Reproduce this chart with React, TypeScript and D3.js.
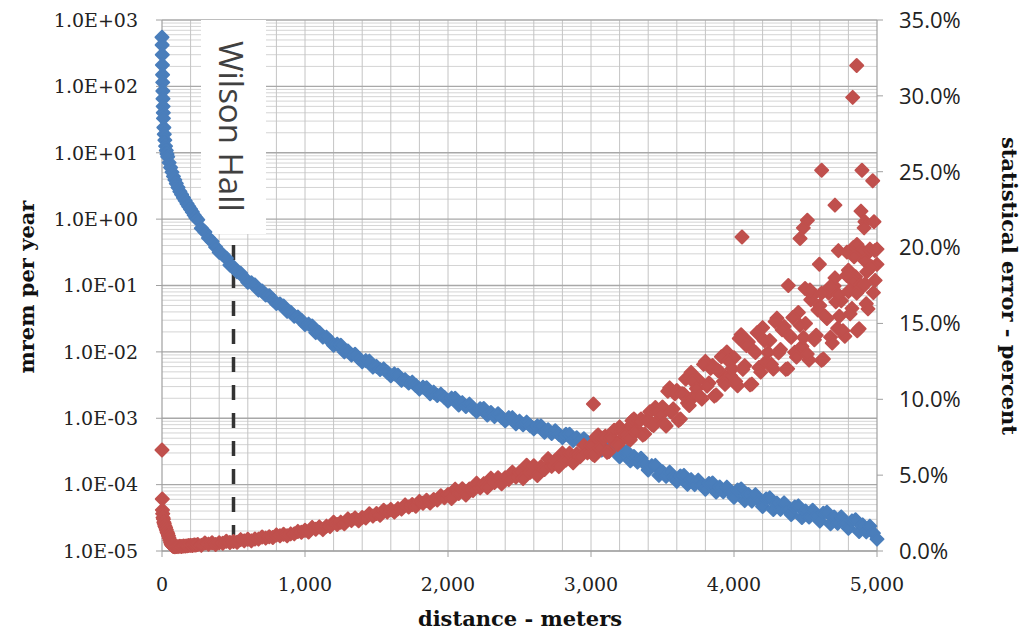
import React from "react";
import * as d3 from "d3";

const W = 1023;
const H = 633;
const PL = 162, PR = 877, PT = 20, PB = 551;

const xTickValues = [0, 1000, 2000, 3000, 4000, 5000];
const xTickLabels = ["0", "1,000", "2,000", "3,000", "4,000", "5,000"];
const leftTickValues = [1e3, 1e2, 1e1, 1e0, 1e-1, 1e-2, 1e-3, 1e-4, 1e-5];
const leftTickLabels = ["1.0E+03", "1.0E+02", "1.0E+01", "1.0E+00", "1.0E-01", "1.0E-02", "1.0E-03", "1.0E-04", "1.0E-05"];
const rightTickValues = [0, 5, 10, 15, 20, 25, 30, 35];
const rightTickLabels = ["0.0%", "5.0%", "10.0%", "15.0%", "20.0%", "25.0%", "30.0%", "35.0%"];

const wilsonHallDistance = 500;

// dose (mrem per year) vs distance (m)
const doseSeries: [number, number][] = [
  [0, 550], [1, 420], [2, 300], [3, 210], [4, 150], [5, 115], [6, 85], [7, 65], [8, 50], [9, 40], [10, 33], [13, 24], [16, 19], [20, 15.5], [25, 12.6], [30, 10.8], [35, 9.6], [40, 8.7], [50, 7.1], [60, 6.0], [70, 5.1], [80, 4.4], [90, 3.9], [100, 3.45], [112, 3.0], [125, 2.6], [137, 2.35], [150, 2.1], [162, 1.9], [175, 1.7], [187, 1.55], [200, 1.41], [212, 1.28], [225, 1.15], [237, 1.05],
  [250, 0.98], [275, 0.73], [300, 0.64], [325, 0.52], [350, 0.46], [375, 0.38], [400, 0.316], [425, 0.29], [450, 0.257], [475, 0.204], [500, 0.19], [525, 0.161], [550, 0.153], [575, 0.131], [600, 0.112], [625, 0.110], [650, 0.102], [675, 0.0851], [700, 0.0828], [725, 0.0721], [750, 0.0702], [775, 0.0611], [800, 0.0537], [825, 0.0527], [850, 0.049], [875, 0.0407], [900, 0.0396], [925, 0.0345], [950, 0.0336], [975, 0.0299],
  [1000, 0.0257], [1025, 0.0262], [1050, 0.0245], [1075, 0.0195], [1100, 0.0196], [1125, 0.0167], [1150, 0.0167], [1175, 0.0146], [1200, 0.0126], [1225, 0.0131], [1250, 0.0126], [1275, 0.0100], [1300, 0.0103], [1325, 8.95e-3], [1350, 9.2e-3], [1375, 8.02e-3], [1400, 7.08e-3], [1425, 7.38e-3], [1450, 7.24e-3], [1475, 5.89e-3], [1500, 6.05e-3], [1525, 5.4e-3], [1550, 5.55e-3], [1575, 4.94e-3], [1600, 4.37e-3], [1625, 4.66e-3], [1650, 4.47e-3], [1675, 3.72e-3], [1700, 3.82e-3], [1725, 3.4e-3], [1750, 3.5e-3], [1775, 3.12e-3], [1800, 2.75e-3], [1825, 2.94e-3], [1850, 2.88e-3], [1875, 2.34e-3], [1900, 2.47e-3], [1925, 2.2e-3], [1950, 2.31e-3], [1975, 2.06e-3],
  [2000, 1.82e-3], [2025, 2.01e-3], [2050, 2.0e-3], [2075, 1.58e-3], [2100, 1.72e-3], [2125, 1.5e-3], [2150, 1.63e-3], [2175, 1.42e-3], [2200, 1.26e-3], [2225, 1.39e-3], [2250, 1.4e-3], [2275, 1.12e-3], [2300, 1.22e-3], [2325, 1.06e-3], [2350, 1.17e-3], [2375, 1.03e-3], [2400, 9.12e-4], [2425, 1.02e-3], [2450, 1.02e-3], [2475, 8.22e-4], [2500, 9.04e-4], [2525, 7.96e-4], [2550, 8.75e-4], [2575, 7.71e-4], [2600, 6.92e-4], [2625, 7.66e-4], [2650, 7.67e-4], [2675, 6.17e-4], [2700, 6.7e-4], [2725, 5.9e-4], [2750, 6.49e-4], [2775, 5.71e-4], [2800, 5.13e-4], [2825, 5.74e-4], [2850, 5.75e-4], [2875, 4.62e-4], [2900, 5.08e-4], [2925, 4.48e-4], [2950, 4.92e-4], [2975, 4.34e-4],
  [3000, 3.72e-4], [3025, 4.43e-4], [3050, 4.52e-4], [3075, 3.31e-4], [3100, 3.84e-4], [3125, 3.19e-4], [3150, 3.7e-4], [3175, 3.08e-4], [3200, 2.63e-4], [3225, 3.13e-4], [3250, 3.16e-4], [3275, 2.29e-4], [3300, 2.65e-4], [3325, 2.18e-4], [3350, 2.5e-4], [3375, 2.06e-4], [3400, 1.66e-4], [3425, 1.93e-4], [3450, 1.95e-4], [3475, 1.38e-4], [3500, 1.56e-4], [3525, 1.33e-4], [3550, 1.54e-4], [3575, 1.3e-4], [3600, 1.12e-4], [3625, 1.35e-4], [3650, 1.38e-4], [3675, 1.01e-4], [3700, 1.19e-4], [3725, 1.0e-4], [3750, 1.17e-4], [3775, 9.84e-5], [3800, 8.51e-5], [3825, 1.04e-4], [3850, 1.06e-4], [3875, 7.76e-5], [3900, 9.2e-5], [3925, 7.83e-5], [3950, 9.18e-5], [3975, 7.73e-5],
  [4000, 6.46e-5], [4025, 8.28e-5], [4050, 8.61e-5], [4075, 5.75e-5], [4100, 7.11e-5], [4125, 5.65e-5], [4150, 7.06e-5], [4175, 5.68e-5], [4200, 4.68e-5], [4225, 6.07e-5], [4250, 6.31e-5], [4275, 4.22e-5], [4300, 5.27e-5], [4325, 4.24e-5], [4350, 5.3e-5], [4375, 4.26e-5], [4400, 3.55e-5], [4425, 4.6e-5], [4450, 4.79e-5], [4475, 3.2e-5], [4500, 4.0e-5], [4525, 3.25e-5], [4550, 4.11e-5], [4575, 3.34e-5], [4600, 2.82e-5], [4625, 3.7e-5], [4650, 3.85e-5], [4675, 2.57e-5], [4700, 3.25e-5], [4725, 2.61e-5], [4750, 3.27e-5], [4775, 2.62e-5], [4800, 2.19e-5], [4825, 2.84e-5], [4850, 2.95e-5], [4875, 1.97e-5], [4900, 2.47e-5], [4925, 1.94e-5], [4950, 2.37e-5], [4975, 1.86e-5], [5000, 1.51e-5],
];

// statistical error (percent) vs distance (m)
const errorSeries: [number, number][] = [
  [0, 6.66], [2, 3.43], [3, 2.7], [5, 2.45], [7, 2.2], [10, 2.1], [13, 1.9], [16, 1.8], [20, 1.65], [25, 1.55], [30, 1.4], [35, 1.25], [40, 1.15], [45, 1.0], [50, 0.85], [55, 0.7], [60, 0.55], [65, 0.45], [70, 0.38], [75, 0.33], [80, 0.3], [90, 0.28], [100, 0.3], [112, 0.29], [125, 0.31], [137, 0.3], [150, 0.33], [162, 0.32], [175, 0.34], [187, 0.36], [200, 0.37], [212, 0.36], [225, 0.4], [237, 0.39],
  [250, 0.43], [275, 0.37], [300, 0.53], [325, 0.45], [350, 0.54], [375, 0.43], [400, 0.54], [425, 0.51], [450, 0.64], [475, 0.56], [500, 0.63], [525, 0.58], [550, 0.75], [575, 0.67], [600, 0.77], [625, 0.67], [650, 0.79], [675, 0.78], [700, 0.92], [725, 0.85], [750, 0.94], [775, 0.89], [800, 1.06], [825, 1.0], [850, 1.10], [875, 1.0], [900, 1.13], [925, 1.13], [950, 1.29], [975, 1.24],
  [1000, 1.37], [1025, 1.25], [1050, 1.56], [1075, 1.43], [1100, 1.59], [1125, 1.41], [1150, 1.64], [1175, 1.61], [1200, 1.89], [1225, 1.75], [1250, 1.9], [1275, 1.8], [1300, 2.12], [1325, 2.0], [1350, 2.18], [1375, 1.99], [1400, 2.21], [1425, 2.18], [1450, 2.45], [1475, 2.3], [1500, 2.47], [1525, 2.36], [1550, 2.69], [1575, 2.56], [1600, 2.74], [1625, 2.56], [1650, 2.79], [1675, 2.76], [1700, 3.04], [1725, 2.9], [1750, 3.06], [1775, 2.95], [1800, 3.27], [1825, 3.15], [1850, 3.34], [1875, 3.16], [1900, 3.39], [1925, 3.36], [1950, 3.64], [1975, 3.51],
  [2000, 3.72], [2025, 3.46], [2050, 4.08], [2075, 3.79], [2100, 4.1], [2125, 3.69], [2150, 4.09], [2175, 3.98], [2200, 4.47], [2225, 4.16], [2250, 4.44], [2275, 4.19], [2300, 4.8], [2325, 4.52], [2350, 4.83], [2375, 4.43], [2400, 4.83], [2425, 4.71], [2450, 5.2], [2475, 4.87], [2500, 5.19], [2525, 4.77], [2550, 5.65], [2575, 5.19], [2600, 5.62], [2625, 4.98], [2650, 5.56], [2675, 5.37], [2700, 6.09], [2725, 5.58], [2750, 5.98], [2775, 5.56], [2800, 6.45], [2825, 6.0], [2850, 6.45], [2875, 5.81], [2900, 6.4], [2925, 6.23], [2950, 6.96], [2975, 6.47],
  [3000, 6.96], [3025, 6.29], [3050, 7.65], [3075, 6.91], [3100, 7.57], [3125, 6.55], [3150, 7.42], [3175, 7.1], [3200, 8.18], [3225, 7.38], [3250, 7.99], [3275, 7.33], [3300, 8.7], [3325, 8.0], [3350, 8.7], [3375, 7.71], [3400, 8.62], [3425, 8.34], [3450, 9.46], [3475, 8.68], [3500, 9.49], [3525, 8.24], [3550, 10.75], [3575, 9.37], [3600, 10.58], [3625, 8.7], [3650, 10.33], [3675, 9.75], [3700, 11.77], [3725, 10.23], [3750, 11.29], [3775, 10.01], [3800, 12.5], [3825, 11.07], [3850, 12.23], [3875, 10.28], [3900, 11.83], [3925, 11.18], [3950, 13.12], [3975, 11.56],
  [4000, 12.74], [4025, 10.89], [4050, 14.25], [4075, 12.22], [4100, 13.78], [4125, 11.0], [4150, 13.08], [4175, 12.1], [4200, 14.72], [4225, 12.49], [4250, 13.87], [4275, 12.0], [4300, 15.35], [4325, 13.28], [4350, 14.8], [4375, 12.01], [4400, 14.08], [4425, 13.1], [4450, 15.72], [4475, 13.48], [4500, 14.99], [4525, 12.59], [4550, 16.85], [4575, 14.22], [4600, 16.18], [4625, 12.65], [4650, 15.33], [4675, 14.1], [4700, 17.47], [4725, 14.68], [4750, 16.49], [4775, 14.16], [4800, 18.5], [4825, 15.99], [4850, 18.08], [4875, 14.65], [4900, 17.43], [4925, 16.3], [4950, 19.77], [4975, 17.03], [5000, 18.89],
];

const errorSeriesFar: [number, number][] = [
  [3012, 6.38], [3037, 7.53], [3062, 6.79], [3087, 7.45], [3112, 6.5], [3137, 7.44], [3162, 7.96], [3187, 7.01], [3212, 7.88], [3237, 7.65], [3262, 7.41], [3287, 8.58], [3312, 7.86], [3337, 8.56], [3362, 7.64], [3387, 8.62], [3412, 9.18], [3437, 8.27], [3462, 9.17], [3487, 8.96],
  [3512, 8.41], [3537, 10.53], [3562, 9.15], [3587, 10.36], [3612, 8.6], [3637, 10.36], [3662, 11.34], [3687, 9.59], [3712, 11.2], [3737, 10.7], [3762, 10.2], [3787, 12.3], [3812, 10.87], [3837, 12.04], [3862, 10.21], [3887, 11.9], [3912, 12.8], [3937, 10.98], [3962, 12.53], [3987, 12.01],
  [4012, 11.18], [4037, 14.01], [4062, 11.97], [4087, 13.54], [4112, 10.95], [4137, 13.21], [4162, 14.39], [4187, 11.79], [4212, 13.87], [4237, 13.09], [4262, 12.3], [4287, 15.12], [4312, 13.06], [4337, 14.58], [4362, 11.97], [4387, 14.22], [4412, 15.39], [4437, 12.79], [4462, 14.87], [4487, 14.07],
  [4512, 12.98], [4537, 16.56], [4562, 13.92], [4587, 15.89], [4612, 12.57], [4637, 15.48], [4662, 17.01], [4687, 13.71], [4712, 16.42], [4737, 15.47], [4762, 14.52], [4787, 18.17], [4812, 15.63], [4837, 17.72], [4862, 14.52], [4887, 17.53], [4912, 19.16], [4937, 15.96], [4962, 18.74], [4987, 17.84],
];

const errorOutliers: [number, number][] = [
  [3017, 9.69], [4056, 20.7], [4858, 32.0], [4830, 29.9], [4613, 25.1], [4895, 25.1], [4970, 24.4], [4706, 22.8], [4888, 22.4], [4513, 21.8], [4485, 21.3], [4462, 20.6], [4916, 21.7], [4979, 21.7], [4910, 21.3], [4730, 19.8], [4790, 19.7], [4835, 20.0], [4860, 20.2], [4895, 19.8], [4950, 19.9], [4985, 19.8], [5000, 19.9], [4840, 19.4], [4928, 18.4], [4597, 18.9], [4916, 17.6], [4706, 18.0], [4380, 17.5], [4497, 17.3], [4531, 17.2], [4613, 17.0], [4671, 17.4], [4730, 16.9], [4800, 17.1], [4858, 17.0],
];

const BLUE = "#4a7ebb";
const RED = "#c0504d";
const R = 6.5;
const diamond = `M0,${-R}L${R},0L0,${R}L${-R},0Z`;

export default function App() {
  const x = d3.scaleLinear().domain([0, 5000]).range([PL, PR]);
  const yL = d3.scaleLog().domain([1e-5, 1e3]).range([PB, PT]);
  const yR = d3.scaleLinear().domain([0, 35]).range([PB, PT]);

  const vGrid = d3.range(200, 5000, 200);
  const minorH = yL.ticks().filter((v) => {
    const l = Math.log10(v);
    return Math.abs(l - Math.round(l)) > 1e-6;
  });

  const serif = "'DejaVu Serif', serif";
  const sans = "'Open Sans', sans-serif";

  return (
    <svg width={W} height={H} style={{ position: "absolute", left: 0, top: 0, background: "#fff" }}>
      <rect x={0} y={0} width={W} height={H} fill="#fff" />
      {minorH.map((v, i) => (
        <line key={"mh" + i} x1={PL} x2={PR} y1={yL(v)} y2={yL(v)} stroke="#d4d4d4" strokeWidth={1} />
      ))}
      {vGrid.map((d) => (
        <line key={"vg" + d} x1={x(d)} x2={x(d)} y1={PT} y2={PB} stroke="#c4c4c4" strokeWidth={1} />
      ))}
      {leftTickValues.map((v) => (
        <line key={"MH" + v} x1={PL} x2={PR} y1={yL(v)} y2={yL(v)} stroke="#a8a8a8" strokeWidth={1.3} />
      ))}
      <line x1={PL} x2={PL} y1={PT} y2={PB} stroke="#a0a0a0" strokeWidth={1.2} />
      <line x1={PR} x2={PR} y1={PT} y2={PB} stroke="#a0a0a0" strokeWidth={1.2} />
      <line x1={PL} x2={PR} y1={PB} y2={PB} stroke="#a0a0a0" strokeWidth={1.2} />
      {leftTickValues.map((v) => (
        <line key={"lt" + v} x1={PL - 6} x2={PL} y1={yL(v)} y2={yL(v)} stroke="#a0a0a0" />
      ))}
      {rightTickValues.map((v) => (
        <line key={"rt" + v} x1={PR} x2={PR + 6} y1={yR(v)} y2={yR(v)} stroke="#a0a0a0" />
      ))}
      {xTickValues.map((v) => (
        <line key={"xt" + v} x1={x(v)} x2={x(v)} y1={PB} y2={PB + 6} stroke="#a0a0a0" />
      ))}

      <rect x={201} y={PT} width={65} height={214} fill="#fff" />
      <text transform={`translate(219,${41}) rotate(90)`} fontFamily={sans} fontSize={33} fill="#404040">
        Wilson Hall
      </text>
      <line
        x1={x(wilsonHallDistance)}
        x2={x(wilsonHallDistance)}
        y1={245}
        y2={539}
        stroke="#333"
        strokeWidth={3.5}
        strokeDasharray="15,13"
      />

      <g fill={BLUE} stroke={BLUE} strokeWidth={2} strokeLinejoin="round">
        {doseSeries.map(([d, v], i) => (
          <path key={"b" + i} d={diamond} transform={`translate(${x(d)},${yL(v)})`} />
        ))}
      </g>
      <g fill={RED} stroke={RED} strokeWidth={2} strokeLinejoin="round">
        {errorSeries.map(([d, v], i) => (
          <path key={"r" + i} d={diamond} transform={`translate(${x(d)},${yR(v)})`} />
        ))}
        {errorSeriesFar.map(([d, v], i) => (
          <path key={"rf" + i} d={diamond} transform={`translate(${x(d)},${yR(v)})`} />
        ))}
        {errorOutliers.map(([d, v], i) => (
          <path key={"ro" + i} d={diamond} transform={`translate(${x(d)},${yR(v)})`} />
        ))}
      </g>

      {leftTickValues.map((v, i) => (
        <text key={"ll" + i} x={138} y={yL(v)} dy="0.36em" textAnchor="end" fontFamily={serif} fontSize={19} fill="#222">
          {leftTickLabels[i]}
        </text>
      ))}
      {rightTickValues.map((v, i) => (
        <text key={"rl" + i} x={899} y={yR(v)} dy="0.36em" textAnchor="start" fontFamily={sans} fontSize={22} fill="#222">
          {rightTickLabels[i]}
        </text>
      ))}
      {xTickValues.map((v, i) => (
        <text key={"xl" + i} x={x(v)} y={591} textAnchor="middle" fontFamily={serif} fontSize={19} fill="#222">
          {xTickLabels[i]}
        </text>
      ))}

      <text transform="translate(34,287) rotate(-90)" textAnchor="middle" fontFamily={serif} fontWeight="bold" fontSize={21} fill="#111">
        mrem per year
      </text>
      <text x={520} y={626} textAnchor="middle" fontFamily={serif} fontWeight="bold" fontSize={21} fill="#111">
        distance - meters
      </text>
      <text transform="translate(1002,286) rotate(90)" textAnchor="middle" fontFamily={serif} fontWeight="bold" fontSize={21} fill="#111">
        statistical error - percent
      </text>
    </svg>
  );
}
